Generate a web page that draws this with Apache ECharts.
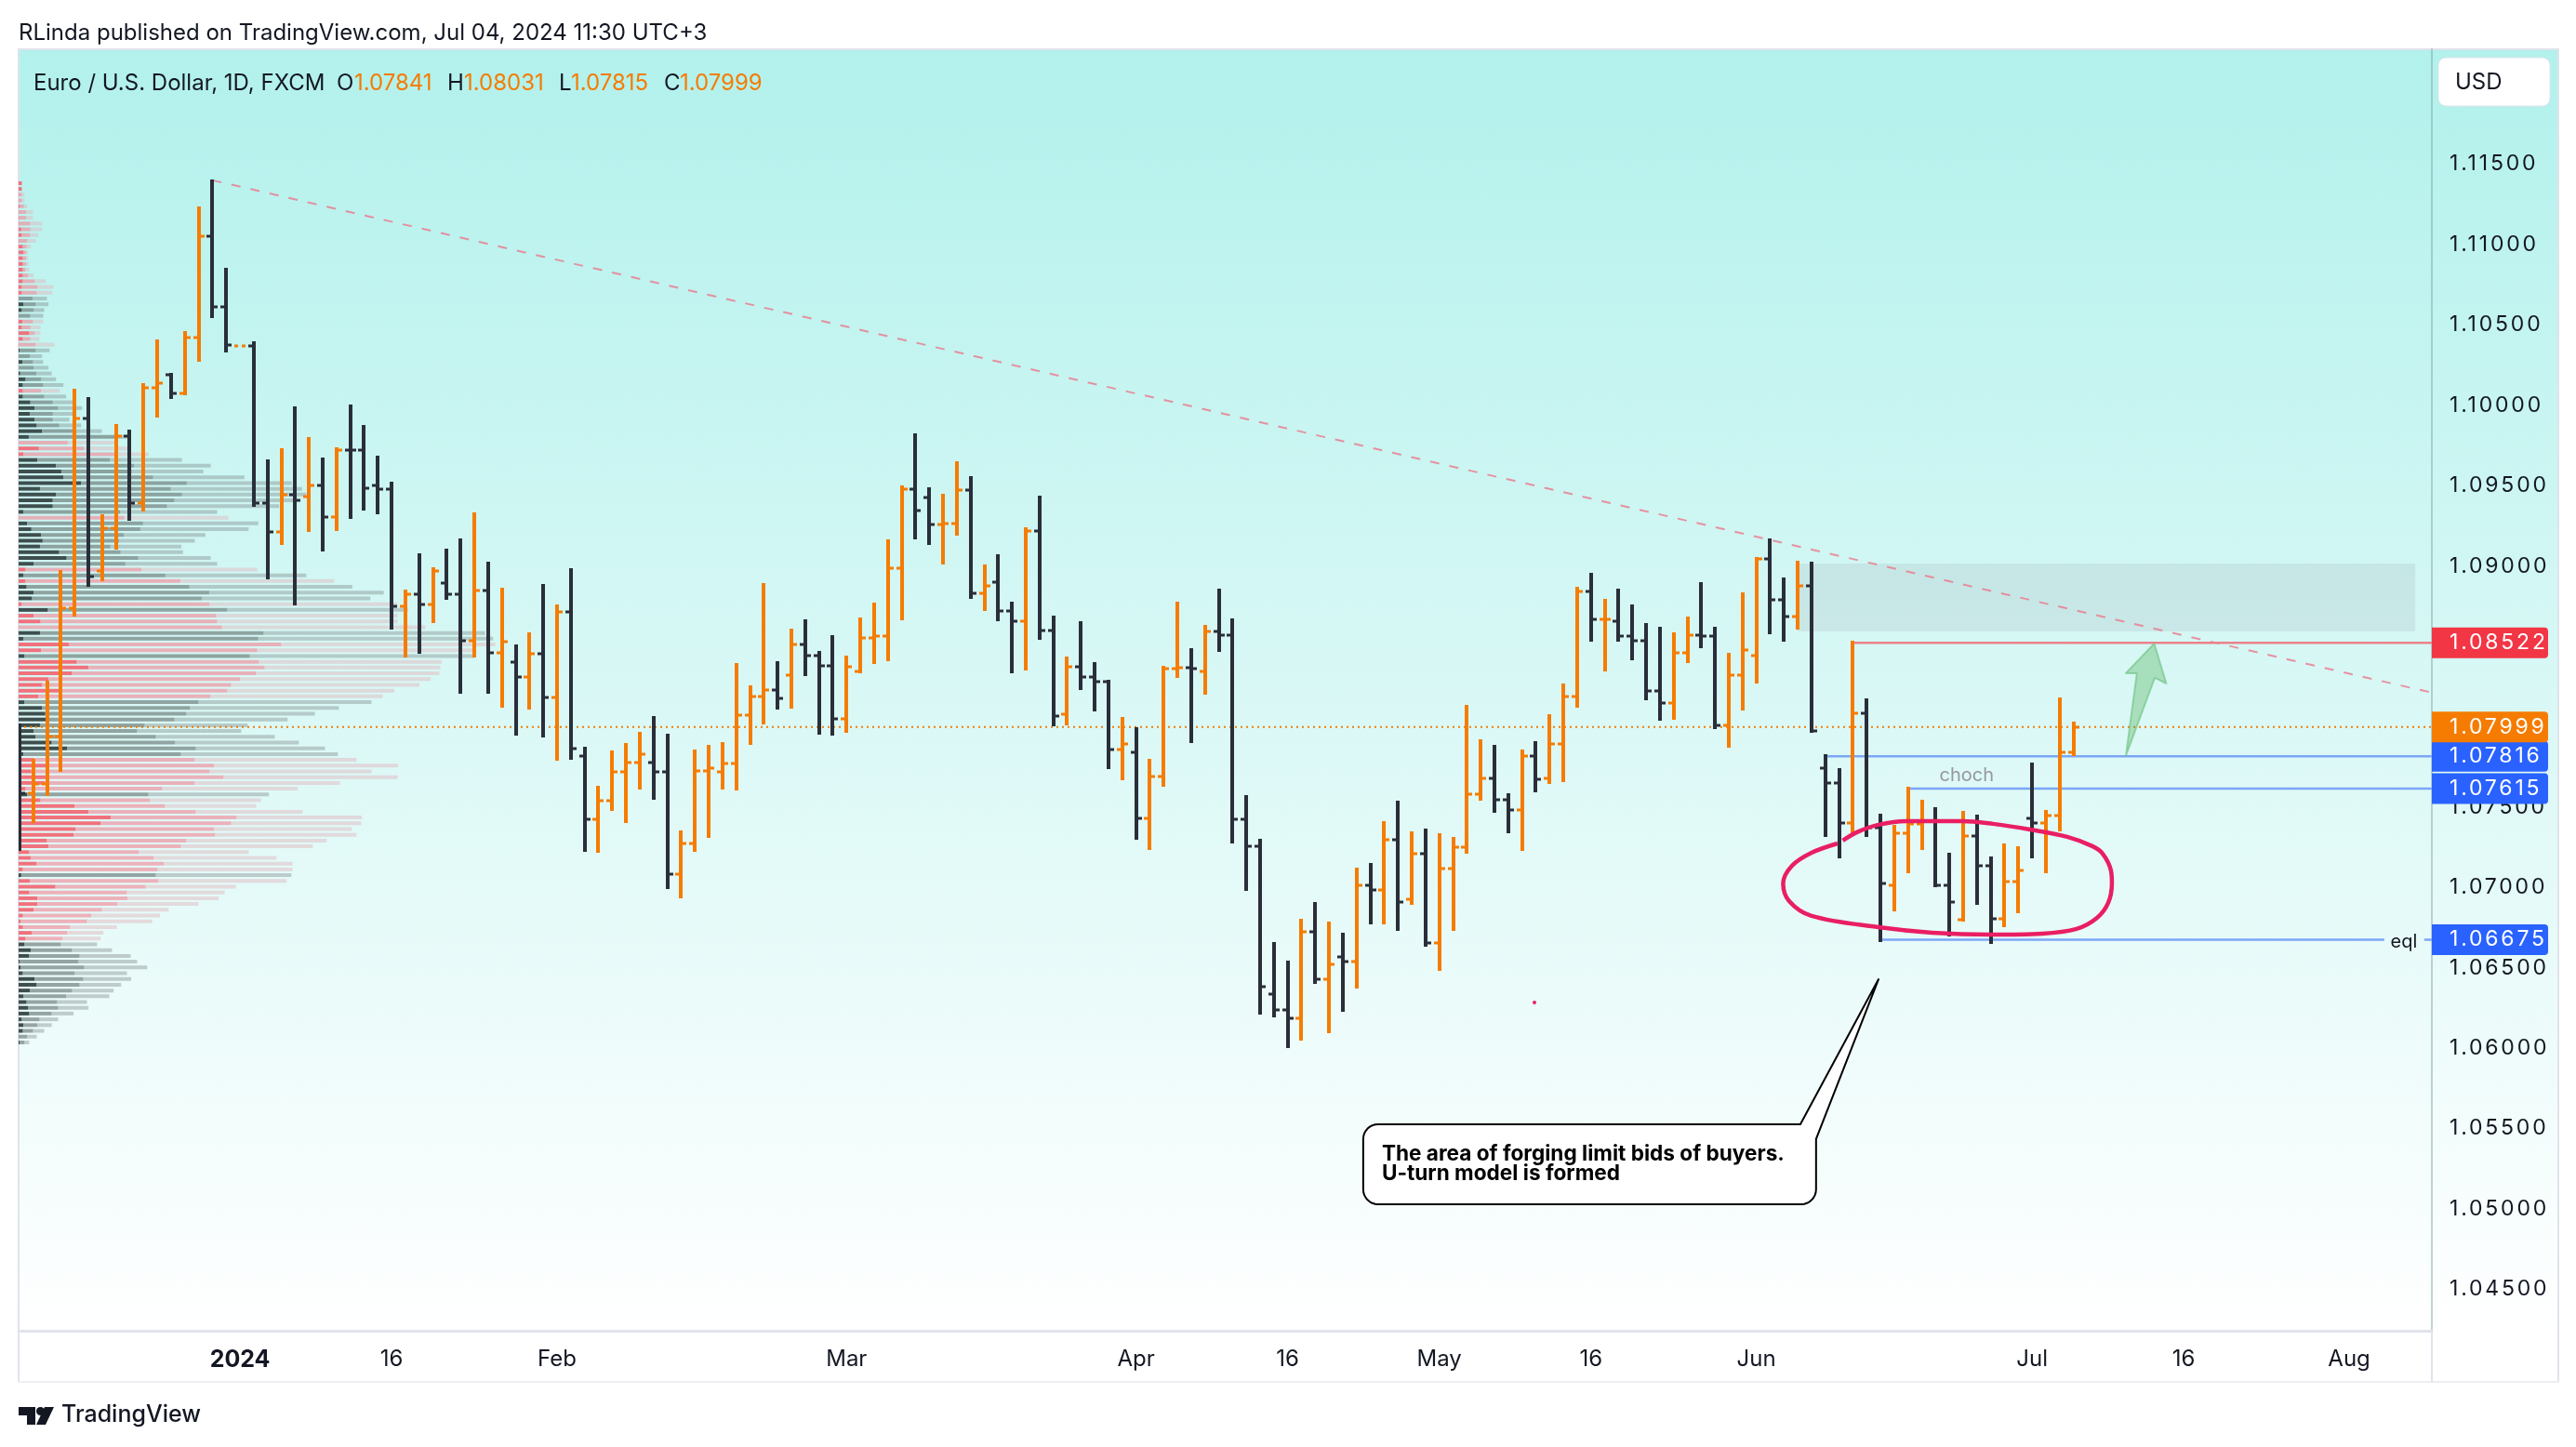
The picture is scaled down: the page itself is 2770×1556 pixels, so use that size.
<!DOCTYPE html>
<html><head><meta charset="utf-8">
<style>html,body{margin:0;padding:0;background:#fff}#c{width:2770px;height:1556px}</style>
<script src="https://cdn.jsdelivr.net/npm/echarts@6/dist/echarts.min.js"></script>
</head><body><div id="c"></div>
<script>
// ---- price bars: index 0 = Mon 1 Jan 2024, counted in trading days ----
const firstBar = -16;
const opens = [
1.07720,1.07587,1.07646,1.07941,1.08740,1.09920,1.08969,1.09236,1.09808,1.09392,
1.10109,1.10190,1.10075,1.10422,1.11052,1.10613,1.10370,1.10370,1.09392,1.09212,
1.09444,1.09432,1.09502,1.09305,1.09722,1.09722,1.09502,1.09479,1.08750,1.08825,
1.08761,1.08894,1.08825,1.08535,1.08848,1.08460,1.08402,1.08310,1.08454,1.08182,
1.08715,1.07818,1.07425,1.07540,1.07720,1.07777,1.07777,1.07720,1.07083,1.07274,
1.07725,1.07720,1.07772,1.08073,1.08188,1.08229,1.08321,1.08512,1.08443,1.08379,
1.08049,1.08345,1.08553,1.08564,1.08987,1.09479,1.09426,1.09259,1.09265,1.09473,
1.08831,1.08900,1.08721,1.08657,1.09218,1.08599,1.08078,1.08373,1.08310,1.08281,
1.07858,1.07841,1.07430,1.07691,1.08362,1.08368,1.08345,1.08593,1.08570,1.07425,
1.07257,1.06337,1.06238,1.06186,1.06725,1.06429,1.06568,1.06539,1.07014,1.06985,
1.07297,1.06927,1.07211,1.06655,1.07118,1.07251,1.07581,1.07679,1.07546,1.07482,
1.07818,1.07679,1.07893,1.08188,1.08842,1.08669,1.08657,1.08564,1.08535,1.08223,
1.08148,1.08460,1.08570,1.08564,1.08009,1.08321,1.08443,1.09045,1.08790,1.08686,
1.08877,1.07743,1.07650,1.07401,1.08084,1.07372,1.07014,1.07338,1.07396,1.07413,
1.07014,1.06800,1.07320,1.07135,1.06805,1.07037,1.07430,1.07401,1.07448,1.07841];
const highs = [
1.08020,1.07801,1.08287,1.08975,1.10103,1.10051,1.09321,1.09884,1.09849,1.10138,
1.10410,1.10202,1.10462,1.11237,1.11405,1.10856,1.10370,1.10399,1.09664,1.09733,
1.09994,1.09803,1.09675,1.09739,1.10005,1.09878,1.09687,1.09525,1.08854,1.09079,
1.08993,1.09108,1.09172,1.09334,1.09027,1.08865,1.08512,1.08588,1.08888,1.08761,
1.08987,1.07876,1.07633,1.07853,1.07899,1.07968,1.08067,1.07957,1.07355,1.07858,
1.07887,1.07905,1.08397,1.08258,1.08894,1.08408,1.08611,1.08669,1.08472,1.08570,
1.08443,1.08680,1.08773,1.09166,1.09502,1.09826,1.09490,1.09450,1.09652,1.09560,
1.09010,1.09074,1.08778,1.09241,1.09435,1.08692,1.08437,1.08657,1.08402,1.08292,
1.08061,1.07997,1.07801,1.08379,1.08778,1.08489,1.08634,1.08859,1.08674,1.07575,
1.07303,1.06661,1.06545,1.06805,1.06910,1.06788,1.06719,1.07124,1.07153,1.07413,
1.07540,1.07349,1.07367,1.07338,1.07315,1.08136,1.07922,1.07887,1.07587,1.07858,
1.07911,1.08078,1.08269,1.08871,1.08958,1.08796,1.08859,1.08761,1.08645,1.08622,
1.08588,1.08686,1.08900,1.08622,1.08460,1.08836,1.09056,1.09172,1.08929,1.09033,
1.09027,1.07830,1.07743,1.08535,1.08177,1.07459,1.07390,1.07627,1.07546,1.07500,
1.07216,1.07477,1.07453,1.07193,1.07274,1.07257,1.07777,1.07482,1.08182,1.08031];
const lows = [
1.07228,1.07401,1.07571,1.07720,1.08686,1.08871,1.08906,1.09102,1.09282,1.09340,
1.09924,1.10040,1.10063,1.10271,1.10543,1.10329,1.10370,1.09369,1.08917,1.09131,
1.08755,1.09212,1.09091,1.09218,1.09293,1.09346,1.09322,1.08605,1.08431,1.08454,
1.08645,1.08790,1.08206,1.08431,1.08206,1.08119,1.07945,1.08107,1.07934,1.07789,
1.07795,1.07222,1.07216,1.07477,1.07401,1.07610,1.07546,1.06991,1.06935,1.07222,
1.07309,1.07610,1.07604,1.07887,1.08015,1.08107,1.08113,1.08316,1.07951,1.07945,
1.07963,1.08333,1.08391,1.08408,1.08663,1.09166,1.09131,1.09010,1.09189,1.08796,
1.08721,1.08657,1.08333,1.08350,1.08541,1.08003,1.08009,1.08229,1.08096,1.07737,
1.07667,1.07297,1.07234,1.07627,1.08304,1.07899,1.08200,1.08466,1.07274,1.06979,
1.06209,1.06192,1.06001,1.06047,1.06400,1.06094,1.06227,1.06371,1.06771,1.06771,
1.06730,1.06892,1.06632,1.06481,1.06730,1.07211,1.07540,1.07465,1.07338,1.07228,
1.07592,1.07644,1.07656,1.08119,1.08530,1.08345,1.08530,1.08414,1.08165,1.08038,
1.08044,1.08397,1.08489,1.07986,1.07870,1.08101,1.08269,1.08576,1.08530,1.08605,
1.07963,1.07315,1.07182,1.07332,1.07315,1.06661,1.06852,1.07089,1.07234,1.07002,
1.06696,1.06788,1.06892,1.06649,1.06753,1.06840,1.07182,1.07089,1.07349,1.07815];
const closes = [
1.07587,1.07646,1.07941,1.08738,1.09920,1.08935,1.09236,1.09808,1.09392,1.10109,
1.10138,1.10075,1.10422,1.11052,1.10613,1.10375,1.10370,1.09392,1.09212,1.09444,
1.09409,1.09502,1.09305,1.09722,1.09720,1.09484,1.09479,1.08750,1.08825,1.08761,
1.08969,1.08825,1.08535,1.08848,1.08460,1.08530,1.08310,1.08454,1.08182,1.08715,
1.07864,1.07425,1.07540,1.07720,1.07777,1.07830,1.07720,1.07083,1.07274,1.07725,
1.07743,1.07772,1.08073,1.08188,1.08229,1.08177,1.08512,1.08443,1.08379,1.08049,
1.08373,1.08553,1.08564,1.08987,1.09479,1.09346,1.09259,1.09265,1.09473,1.08831,
1.08877,1.08721,1.08657,1.09218,1.08599,1.08067,1.08373,1.08310,1.08281,1.07858,
1.07893,1.07430,1.07691,1.08362,1.08368,1.08362,1.08593,1.08570,1.07425,1.07257,
1.06383,1.06238,1.06186,1.06725,1.06429,1.06522,1.06539,1.07014,1.06985,1.07297,
1.06910,1.07211,1.06655,1.07118,1.07251,1.07581,1.07679,1.07546,1.07482,1.07818,
1.07673,1.07893,1.08188,1.08842,1.08669,1.08669,1.08564,1.08535,1.08223,1.08148,
1.08460,1.08570,1.08564,1.08009,1.08321,1.08478,1.09045,1.08790,1.08686,1.08877,
1.07974,1.07650,1.07401,1.08084,1.07372,1.07025,1.07338,1.07396,1.07413,1.07014,
1.06910,1.07320,1.07135,1.06805,1.07037,1.07106,1.07401,1.07448,1.07841,1.07999];

// ---- axis ticks ----
const timeTicks = [0,11,23,44,65,76,87,98,110,130,141,153];
const timeTickLabels = ['2024','16','Feb','Mar','Apr','16','May','16','Jun','Jul','16','Aug'];
const priceTicks = [1.045,1.05,1.055,1.06,1.065,1.07,1.075,1.08,1.085,1.09,1.095,1.10,1.105,1.11,1.115];

// ---- volume profile (top row first) ----
const profileTop = 1.11382, profileBottom = 1.06036;
const profileSide = "rrrrrrrrrrrrrrrrrrrr"+"gggg"+"rrrrr"+"ggggggg"+"r"+"gggggggg"+"rrr"+"gggggggggg"+"r"+"gggggggg"+"r"+"g"+"r"+"ggg"+"r"+"g"+"rrr"+"gg"+"rr"+"g"+"rrrrrrr"+"gggggggggg"+"rrrrrr"+"g"+"rrrrrrrrrrrrr"+"g"+"rrrrrrrrrrr"+"gggggggggggggggggg";
const profileCore = [6,6,1,1,2,1,1,1,5,6,1,8,9,8,8,8,8,8,6,6,0,9,6,0,7,6,20,8,0,2,0,7,0,3,13,8,8,8,22,30,21,30,34,44,19,0,38,9,35,70,80,84,117,40,70,64,64,9,0,16,24,42,45,40,76,90,28,13,9,13,15,28,25,6,55,28,41,0,40,9,94,42,11,109,131,100,56,44,82,37,11,44,50,52,40,28,32,62,91,9,29,54,24,58,49,13,16,41,105,131,173,154,107,103,53,56,20,23,34,8,5,21,69,20,35,35,28,8,4,8,25,13,11,23,20,2,4,8,30,34,21,9,15,18,20,6,9,8,0,2];
const profileMid = [6,6,6,6,10,14,14,22,22,21,16,15,14,14,14,13,18,30,35,34,26,32,28,22,27,22,30,22,32,32,21,27,28,33,42,46,42,48,64,74,64,64,76,102,186,92,122,180,171,216,212,252,315,285,306,292,278,190,198,233,228,197,188,172,191,224,200,230,275,303,320,357,343,358,391,370,372,381,459,449,492,447,433,450,461,445,415,398,391,359,337,321,314,292,236,222,257,293,332,304,330,366,358,384,330,269,243,246,274,332,408,398,366,368,314,304,225,253,272,260,257,262,238,203,204,185,156,136,128,96,91,82,79,100,114,112,123,105,121,114,100,89,72,74,62,39,35,27,16,11];
const profileTotal = [6,6,11,11,16,27,27,44,44,37,32,23,18,18,19,20,28,51,65,63,53,56,48,46,46,41,41,39,67,58,44,46,56,62,70,84,77,89,104,119,104,95,117,156,203,180,206,244,306,360,346,423,512,531,539,520,488,372,393,449,431,350,330,305,308,360,372,447,539,591,625,684,659,710,729,710,710,762,874,889,893,854,854,792,790,788,772,751,704,682,661,600,555,504,429,417,480,525,574,598,633,711,661,710,602,523,469,454,445,532,643,642,624,633,577,551,431,483,513,513,511,502,407,386,375,337,281,265,250,184,159,154,147,175,210,222,241,203,211,192,178,170,128,131,103,74,62,48,34,20];

// ---- drawings, in [bar index, price] ----
const axisEnd = 159;
const lastPrice = 1.07999;
const trendLine = [[-2,1.11400],[159,1.08212]];
const resistance = [[117,1.08522],[159,1.08522]];
const levelA = [[115,1.07816],[159,1.07816]];
const levelB = [[121,1.07615],[159,1.07615]];
const eqlLeft = [[119,1.06675],[155.55,1.06675]];
const eqlRight = [[158.45,1.06675],[159,1.06675]];
const zone = [113.0,157.8,1.09016,1.08593];
const arrowShape = [[136.8,1.07818],[137.6,1.08333],[136.8,1.08333],[138.86,1.08518],[139.74,1.08269],[138.9,1.08304]];
const loopShape = [[116.27,1.07292],[117.3,1.07344],[118.85,1.0739],[120.87,1.07413],[122.9,1.07413],[124.92,1.07413],[127.15,1.07396],[129.85,1.07361],[132.55,1.07315],[134.37,1.07257],[135.11,1.07211],[135.72,1.07106],[135.79,1.07025],[135.52,1.06904],[134.71,1.06811],[133.22,1.06742],[130.73,1.06713],[126.95,1.06707],[122.76,1.06719],[118.85,1.06753],[114,1.06823],[112.38,1.06915],[111.94,1.07025],[112.58,1.07135],[114,1.07216],[115.89,1.07274]];
const calloutBox = {left:81.48,right:114.33,top:1.05527,bottom:1.05029};
const calloutTail = [[113.19,1.05527],[118.86,1.06429],[114.33,1.05434]];
const calloutLines = ['The area of forging limit bids of buyers.','U-turn model is formed'];
const calloutText = [[82.83,1.05340],[82.83,1.05218]];
const tagPrices = [1.08522,1.07615,1.07816,1.07999,1.06675];
const tagColors = ['#f23645','#2962ff','#2962ff','#f57c00','#2962ff'];
const notes = [{t:'choch',x:125.26,y:1.07697,c:'#9598a1'},{t:'eql',x:156.97,y:1.06661,c:'#131722'}];
const strayDot = [93.9,1.06285];

const FONT = 'Inter, "Noto Sans", sans-serif';
const ORANGE='#f57c00', DARK='#2a2e39';
const rowCount = profileTotal.length;

// price-scale numerals are set with tabular spacing in the original
const protoCtx = CanvasRenderingContext2D.prototype, baseFill = protoCtx.fillText;
protoCtx.fillText = function(t,x,y,m){
  this.letterSpacing = (/^1\.\d{5}$/.test(t) && this.font.indexOf('23px')>=0) ? '2.8px' : '0px';
  return m===undefined ? baseFill.call(this,t,x,y) : baseFill.call(this,t,x,y,m);
};

const profileData = profileTotal.map((v,i)=>[profileTop-(profileTop-profileBottom)*i/(rowCount-1),profileCore[i],profileMid[i],v]);
const barData = opens.map((o,i)=>[firstBar+i,o,highs[i],lows[i],closes[i]]);

function rectOf(x,y,w,h,fill){return {type:'rect',shape:{x,y,width:w,height:h},style:{fill}};}

function renderBar(params,api){
  const i=api.value(0),o=api.value(1),h=api.value(2),l=api.value(3),c=api.value(4);
  const col=c>=o?ORANGE:DARK;
  const x=Math.round(api.coord([i,o])[0]);
  const yo=Math.round(api.coord([i,o])[1]),yh=Math.round(api.coord([i,h])[1]),yl=Math.round(api.coord([i,l])[1]),yc=Math.round(api.coord([i,c])[1]);
  return {type:'group',children:[
    rectOf(x-2,yh,4,yl-yh,col),
    rectOf(x-6,yo-1.5,4,3,col),
    rectOf(x+2,yc-1.5,4,3,col)
  ]};
}
function renderProfile(params,api){
  const p=api.value(0),a=api.value(1),b=api.value(2),c=api.value(3);
  const side=profileSide[params.dataIndex];
  const x0=api.coord([0,p]),xa=api.coord([a,p])[0],xb=api.coord([b,p])[0],xc=api.coord([c,p])[0];
  const cols=side==='r'?['#f0727d','rgba(240,147,159,.7)','rgba(225,185,192,.5)']:['#3e4e4e','rgba(113,128,126,.7)','rgba(125,135,135,.4)'];
  const y=x0[1]-2,h=4;
  return {type:'group',children:[
    rectOf(x0[0],y,xa-x0[0],h,cols[0]),
    rectOf(xa,y,xb-xa,h,cols[1]),
    rectOf(xb,y,xc-xb,h,cols[2])
  ]};
}
function renderCallout(params,api){
  const P=q=>api.coord(q);
  const tl=P([calloutBox.left,calloutBox.top]),br=P([calloutBox.right,calloutBox.bottom]);
  const r=16,t0=P(calloutTail[0]),t1=P(calloutTail[1]),t2=P(calloutTail[2]);
  const pts=[];
  const arc=(cx,cy,a0)=>{for(let k=0;k<=8;k++){const a=a0+k/8*Math.PI/2;pts.push([cx+r*Math.cos(a),cy+r*Math.sin(a)]);}};
  arc(tl[0]+r,tl[1]+r,Math.PI);
  pts.push(t0,t1,t2);
  arc(br[0]-r,br[1]-r,0);
  arc(tl[0]+r,br[1]-r,Math.PI/2);
  return {type:'polygon',shape:{points:pts},style:{fill:'#fff',stroke:'#000',lineWidth:2,lineJoin:'round'}};
}
function lineSeries(data,color,width,dash,z){
  return {type:'line',data,symbol:'none',silent:true,z:z||3,lineStyle:{color,width,type:dash||'solid'},animation:false};
}
const LEG='24px '+FONT;

const option={
  animation:false,
  backgroundColor:'#ffffff',
  graphic:{elements:[
    {type:'rect',z:-10,silent:true,shape:{x:20,y:53,width:2730,height:1378},style:{fill:{type:'linear',x:0,y:0,x2:0,y2:1,colorStops:[{offset:0,color:'#b2f1ec'},{offset:1,color:'#ffffff'}]}}},
    {type:'rect',z:-9,silent:true,shape:{x:20,y:52,width:2730,height:2},style:{fill:'#e0e3eb'}},
    {type:'rect',z:-9,silent:true,shape:{x:19,y:52,width:2,height:1434},style:{fill:'#e0e3eb'}},
    {type:'rect',z:-9,silent:true,shape:{x:2750,y:52,width:2,height:1434},style:{fill:'#e0e3eb'}},
    {type:'rect',z:-9,silent:true,shape:{x:20,y:1485,width:2732,height:2},style:{fill:'#eceef2'}},
    {type:'rect',z:-9,silent:true,shape:{x:2614,y:1431,width:2,height:55},style:{fill:'#e0e3eb'}},
    {type:'rect',z:-9,silent:true,shape:{x:2622,y:62,width:120,height:52,r:8},style:{fill:'#fff',stroke:'#e0e3eb',lineWidth:1}},
    {type:'text',left:2640,top:77,style:{text:'USD',font:LEG,fill:'#131722'}},
    {type:'text',left:20,top:24,style:{text:'RLinda published on TradingView.com, Jul 04, 2024 11:30 UTC+3',font:LEG,fill:'#131722'}},
    {type:'text',left:36,top:78,style:{text:'Euro / U.S. Dollar, 1D, FXCM',font:LEG,fill:'#131722'}},
    {type:'text',left:362,top:78,style:{text:'O',font:LEG,fill:'#131722'}},
    {type:'text',left:381,top:78,style:{text:'1.07841',font:LEG,fill:ORANGE}},
    {type:'text',left:481,top:78,style:{text:'H',font:LEG,fill:'#131722'}},
    {type:'text',left:499,top:78,style:{text:'1.08031',font:LEG,fill:ORANGE}},
    {type:'text',left:601,top:78,style:{text:'L',font:LEG,fill:'#131722'}},
    {type:'text',left:614,top:78,style:{text:'1.07815',font:LEG,fill:ORANGE}},
    {type:'text',left:714,top:78,style:{text:'C',font:LEG,fill:'#131722'}},
    {type:'text',left:731,top:78,style:{text:'1.07999',font:LEG,fill:ORANGE}},
    {type:'polygon',silent:true,shape:{points:[[20,1513],[38,1513],[38,1532],[29,1532],[29,1522],[20,1522]]},style:{fill:'#131722'}},
    {type:'circle',silent:true,shape:{cx:43.5,cy:1517.5,r:4.5},style:{fill:'#131722'}},
    {type:'polygon',silent:true,shape:{points:[[39,1532],[48,1513],[58,1513],[49,1532]]},style:{fill:'#131722'}},
    {type:'text',left:66,top:1509,style:{text:'TradingView',font:'500 25px '+FONT,fill:'#131722'}}
  ]},
  grid:{left:20,right:155,top:53,bottom:125,containLabel:false},
  xAxis:[
    {type:'value',min:-16.06,max:159,position:'bottom',
      axisLine:{show:true,onZero:false,lineStyle:{color:'#e0e3eb',width:3}},
      axisTick:{show:false},splitLine:{show:false},
      axisLabel:{customValues:timeTicks,margin:19,color:'#131722',fontFamily:FONT,fontSize:24,
        formatter:v=>{const s=timeTickLabels[timeTicks.indexOf(v)];return s==='2024'?'{b|2024}':s;},
        rich:{b:{fontFamily:FONT,fontSize:25,fontWeight:'bold',color:'#131722'}}}},
    {type:'value',min:0,max:4521,show:false,splitLine:{show:false}}
  ],
  yAxis:[{type:'value',position:'right',min:1.04242,max:1.12215,scale:true,
    axisLine:{show:true,onZero:false,lineStyle:{color:'rgba(120,160,160,.45)',width:2}},
    axisTick:{show:false},splitLine:{show:false},
    axisLabel:{customValues:priceTicks,margin:19,padding:[4,0,0,0],color:'#131722',fontFamily:FONT,fontSize:23,formatter:v=>Number(v).toFixed(5)}}],
  series:[
    {type:'custom',name:'Volume profile',xAxisIndex:1,yAxisIndex:0,z:1,silent:true,clip:false,
      data:profileData,encode:{x:[1,2,3],y:0},renderItem:renderProfile},
    {type:'custom',name:'Zone',z:2,silent:true,data:[zone],encode:{x:[0,1],y:[2,3]},
      renderItem:(p,api)=>{const a=api.coord([api.value(0),api.value(2)]),b=api.coord([api.value(1),api.value(3)]);
        return rectOf(a[0],a[1],b[0]-a[0],b[1]-a[1],'rgba(125,135,150,.14)');}},
    lineSeries(trendLine,'rgba(235,120,140,.8)',2,[10,11],3),
    lineSeries(resistance,'#e9828c',2.5),
    lineSeries(levelA,'#7ca6f8',2.5),
    lineSeries(levelB,'#7ca6f8',2.5),
    lineSeries(eqlLeft,'#7ca6f8',2.5),
    lineSeries(eqlRight,'#7ca6f8',2.5),
    lineSeries([[-16.06,lastPrice],[axisEnd,lastPrice]],ORANGE,2,[2,4],3),
    {type:'custom',name:'OHLC',z:5,silent:true,clip:true,data:barData,encode:{x:0,y:[1,2,3,4]},renderItem:renderBar},
    Object.assign(lineSeries(loopShape,'#e91e63',4.5,'solid',6),{smooth:0.35,name:'Loop'}),
    {type:'custom',name:'Arrow',z:6,silent:true,data:[arrowShape[0]],renderItem:(p,api)=>({type:'polygon',
      shape:{points:arrowShape.map(q=>api.coord(q))},style:{fill:'rgba(76,175,80,.35)',stroke:'rgba(100,190,120,.55)',lineWidth:2,lineJoin:'round'}})},
    {type:'custom',name:'Dot',z:6,silent:true,data:[strayDot],renderItem:(p,api)=>{const c=api.coord([api.value(0),api.value(1)]);
      return {type:'circle',shape:{cx:c[0],cy:c[1],r:2},style:{fill:'#e91e63'}};}},
    {type:'custom',name:'Callout',z:7,silent:true,data:[[calloutBox.left,calloutBox.top]],renderItem:renderCallout},
    {type:'custom',name:'CalloutText',z:8,silent:true,data:calloutText,renderItem:(p,api)=>{const c=api.coord([api.value(0),api.value(1)]);
      return {type:'text',x:c[0],y:c[1],style:{text:calloutLines[p.dataIndex],font:'bold 22.6px '+FONT,fill:'#000',textAlign:'left',textVerticalAlign:'middle'}};}},
    {type:'custom',name:'Notes',z:8,silent:true,data:notes.map(n=>[n.x,n.y]),renderItem:(p,api)=>{const c=api.coord([api.value(0),api.value(1)]);const n=notes[p.dataIndex];
      return {type:'text',x:c[0],y:c[1],style:{text:n.t,font:'20px '+FONT,fill:n.c,textAlign:'center',textVerticalAlign:'middle'}};}},
    {type:'custom',name:'Tags',z:9,silent:true,clip:false,data:tagPrices.map(v=>[159,v]),renderItem:(p,api)=>{
      const c=api.coord([api.value(0),api.value(1)]);const y=c[1];
      return {type:'group',children:[
        {type:'rect',shape:{x:c[0],y:y-16.5,width:125,height:33,r:[0,4,4,0]},style:{fill:tagColors[p.dataIndex]}},
        {type:'text',x:c[0]+19,y:y,style:{text:api.value(1).toFixed(5),font:'23px '+FONT,fill:'#fff',textAlign:'left',textVerticalAlign:'middle'}}
      ]};}}
  ]
};
const chart=echarts.init(document.getElementById('c'),null,{renderer:'canvas',width:2770,height:1556});
chart.setOption(option);
</script></body></html>
